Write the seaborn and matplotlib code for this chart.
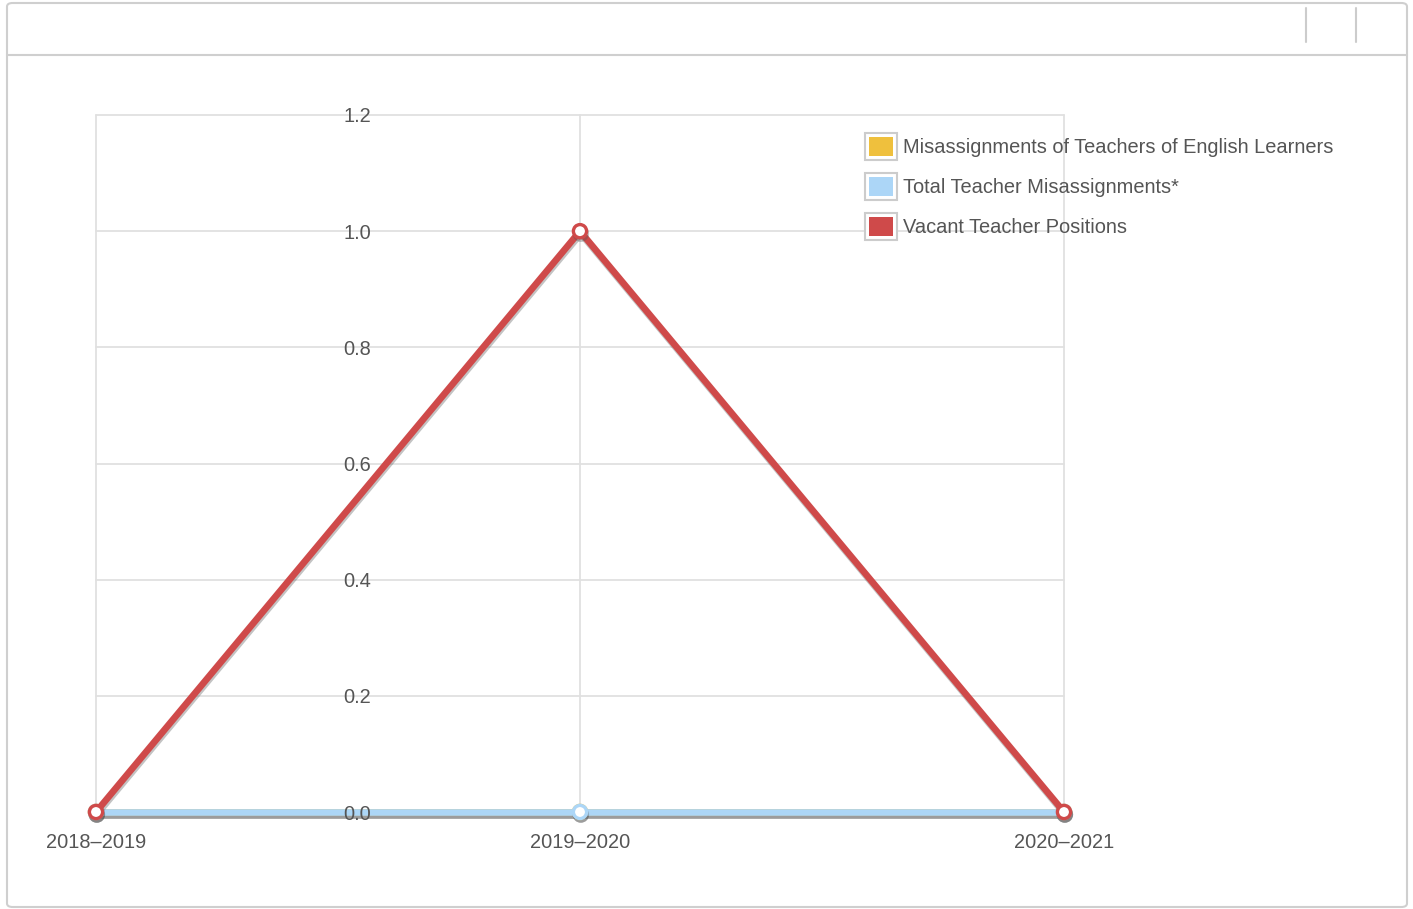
import matplotlib
matplotlib.use("Agg")
import matplotlib.pyplot as plt
import matplotlib.patheffects as pe
from matplotlib.patches import Rectangle, FancyBboxPatch, Patch
from matplotlib.legend_handler import HandlerBase
from matplotlib.lines import Line2D
import seaborn as sns
import pandas as pd

# School years and series values
years = ["2018–2019", "2019–2020", "2020–2021"]
el_misassignments = [0, 0, 0]
total_misassignments = [0, 0, 0]
vacant_positions = [0, 1, 0]
series_names = [
    "Misassignments of Teachers of English Learners",
    "Total Teacher Misassignments*",
    "Vacant Teacher Positions",
]
series_colors = ["#efc03d", "#acd6f7", "#cf4a4a"]
y_ticks = [0.0, 0.2, 0.4, 0.6, 0.8, 1.0, 1.2]

df = pd.concat([
    pd.DataFrame({"year": years, "value": vals, "series": name})
    for name, vals in zip(series_names, [el_misassignments, total_misassignments, vacant_positions])
], ignore_index=True)

sns.set_theme(style="white")
plt.rcParams["font.family"] = ["Liberation Sans", "DejaVu Sans"]
text_color = "#555555"
font_size = 14.4
grid_color = "#e0e0e0"

fig = plt.figure(figsize=(14.13, 9.09), dpi=100)

# Panel frame with header strip
W, H = 1413, 909
frame = FancyBboxPatch((7 / W, 2 / H), 1400 / W, 904 / H,
                       boxstyle="round,pad=0,rounding_size=0.004",
                       transform=fig.transFigure, facecolor="none",
                       edgecolor="#cfcfcf", linewidth=1.5, zorder=-1)
fig.patches.append(frame)
fig.lines.append(Line2D([7 / W, 1407 / W], [1 - 55 / H, 1 - 55 / H],
                        transform=fig.transFigure, color="#cfcfcf", linewidth=1.5))
for xp in (1306, 1356):
    fig.lines.append(Line2D([xp / W, xp / W], [1 - 8 / H, 1 - 42 / H],
                            transform=fig.transFigure, color="#cccccc", linewidth=1.5))

ax = fig.add_axes([96 / W, 1 - 812 / H, (1064 - 96) / W, (812 - 115) / H])
ax.set_facecolor("none")

shadow = [pe.SimpleLineShadow(offset=(0.6, -1.8), shadow_color="#555555", alpha=0.35),
          pe.Normal()]

sns.lineplot(data=df, x="year", y="value", hue="series", palette=series_colors,
             hue_order=series_names, ax=ax, linewidth=4.8, marker="o",
             markersize=9.5, markerfacecolor="white", markeredgewidth=2.4,
             legend=False, sort=False)

for line, col in zip(ax.get_lines(), series_colors):
    line.set_markeredgecolor(col)
    line.set_path_effects(shadow)
    line.set_clip_on(False)
    line.set_zorder(3)

ax.set_xlim(0, 2)
ax.set_ylim(0, 1.2)
ax.set_yticks(y_ticks)
ax.set_yticklabels([f"{v:.1f}" for v in y_ticks])
ax.set_xlabel("")
ax.set_ylabel("")

# Gridlines beneath the series, tick labels above them
ax.grid(False)
for yv in y_ticks:
    ax.axhline(yv, color=grid_color, linewidth=1.3, zorder=1, clip_on=False)
for xi in range(len(years)):
    ax.axvline(xi, color=grid_color, linewidth=1.3, zorder=1, clip_on=False)
ax.yaxis.set_zorder(5)
ax.xaxis.set_zorder(5)
for s in ax.spines.values():
    s.set_visible(False)

ax.tick_params(axis="x", length=0, pad=15, labelsize=font_size, labelcolor=text_color)
ax.tick_params(axis="y", length=0, pad=-188, labelsize=font_size, labelcolor=text_color)
for t in ax.get_yticklabels():
    t.set_horizontalalignment("center")


class BoxHandler(HandlerBase):
    def create_artists(self, legend, orig_handle, xdescent, ydescent, width, height, fontsize, trans):
        outer = Rectangle((-xdescent, -ydescent - 3), width, height + 6,
                          facecolor="white", edgecolor="#cccccc", linewidth=1.5, transform=trans)
        inner = Rectangle((-xdescent + 3, -ydescent), width - 6, height,
                          facecolor=orig_handle.get_facecolor(), edgecolor="none", transform=trans)
        return [outer, inner]


handles = [Patch(facecolor=c) for c in series_colors]
fig.legend(handles, series_names, handler_map={Patch: BoxHandler()},
           loc="upper left", bbox_to_anchor=(849 / W, 1 - 121 / H),
           frameon=False, fontsize=font_size, labelcolor=text_color,
           handlelength=1.6, handleheight=1.05, handletextpad=0.3,
           labelspacing=1.0, borderpad=0.3)

fig.savefig("out.png", dpi=100)
